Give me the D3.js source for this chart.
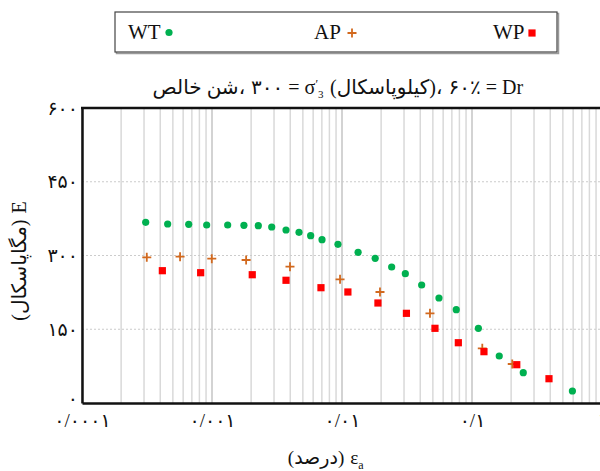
<!DOCTYPE html>
<html><head><meta charset="utf-8">
<script src="https://cdn.jsdelivr.net/npm/d3@7"></script>
<style>body{margin:0;background:#fff}svg{display:block}</style>
</head><body>
<svg id="c" width="600" height="471"></svg>
<script>
// ---- data ----
const seriesNames = ["WT", "AP", "WP"];
const wtStrain = [0.000309,0.000456,0.000662,0.000910,0.00132,0.00176,0.00227,0.00288,0.00371,0.00467,0.00574,0.00702,0.00931,0.0133,0.0180,0.0241,0.0307,0.0410,0.0557,0.0757,0.112,0.162,0.248,0.592];
const wtE      = [367.5,364.1,363.5,362.0,362.0,361.4,360.6,358.0,351.9,347.2,340.3,332.1,322.8,306.5,294.3,276.6,263.0,240.0,213.6,189.8,151.9,95.6,61.6,24.4];
const apStrain = [0.000315,0.000568,0.000996,0.00183,0.00398,0.00966,0.0196,0.0475,0.120,0.204];
const apE      = [296.3,297.6,293.5,290.8,277.2,251.6,225.8,182.4,111.3,79.3];
const wpStrain = [0.000415,0.000818,0.00204,0.00371,0.00689,0.0111,0.0189,0.0313,0.0519,0.0785,0.1236,0.221,0.391];
const wpE      = [269.1,265.0,260.9,249.6,234.5,225.8,203.4,182.4,151.9,122.6,104.4,77.9,49.4];
const xTicks = [0.0001, 0.001, 0.01, 0.1, 1];
const xTickLabels = ["۰/۰۰۰۱", "۰/۰۰۱", "۰/۰۱", "۰/۱", "۱"];
const yTicks = [0, 150, 300, 450, 600];
const yTickLabels = ["۰", "۱۵۰", "۳۰۰", "۴۵۰", "۶۰۰"];

// ---- layout ----
const svg = d3.select("#c");
const L = 82, R = 602, T = 108, B = 403;
const x = d3.scaleLog().domain([1e-4, 1]).range([L, R]);
const y = d3.scaleLinear().domain([0, 600]).range([B, T]);
const serif = "'Liberation Serif','Times New Roman','DejaVu Sans',serif";

// vertical log grid
const grid = [];
for (let d = 1e-4; d < 1; d *= 10) for (let k = 1; k <= 9; k++) grid.push({v: k * d, major: k === 1});
svg.append("g").selectAll("line").data(grid).join("line")
  .attr("x1", d => x(d.v)).attr("x2", d => x(d.v)).attr("y1", T).attr("y2", B)
  .attr("stroke", d => d.major ? "#c4c4c4" : "#d9d9d9").attr("stroke-width", 1.5);

// horizontal dotted grid
svg.append("g").selectAll("line").data(yTicks.filter(v => v > 0 && v < 600)).join("line")
  .attr("x1", L).attr("x2", 600).attr("y1", d => y(d)).attr("y2", d => y(d))
  .attr("stroke", "#cccccc").attr("stroke-width", 1.2).attr("stroke-dasharray", "2,2");

// axes
const yAxis = svg.append("g").attr("transform", `translate(${L},0)`)
  .call(d3.axisLeft(y).tickValues(yTicks).tickFormat((d, i) => yTickLabels[i]).tickSize(0).tickPadding(4));
const xAxis = svg.append("g").attr("transform", `translate(0,${B})`)
  .call(d3.axisBottom(x).tickValues(xTicks).tickFormat((d, i) => xTickLabels[i]).tickSize(0).tickPadding(11));
[yAxis, xAxis].forEach(a => {
  a.select(".domain").attr("stroke", "#111").attr("stroke-width", 2.5);
  a.selectAll("text").attr("font-family", serif).attr("font-size", 19).attr("fill", "#111");
});
yAxis.selectAll(".tick").filter(d => d === 0).select("text").attr("dy", "0.1em");
svg.append("line").attr("x1", L - 1).attr("x2", 600).attr("y1", T).attr("y2", T)
  .attr("stroke", "#111").attr("stroke-width", 2.5);

// series
const plusPath = "M-4.5,0H4.5M0,-4.5V4.5";
svg.append("g").selectAll("circle").data(wtStrain.map((s, i) => [s, wtE[i]])).join("circle")
  .attr("cx", d => x(d[0])).attr("cy", d => y(d[1])).attr("r", 3.6).attr("fill", "#00b050");
svg.append("g").selectAll("path").data(apStrain.map((s, i) => [s, apE[i]])).join("path")
  .attr("transform", d => `translate(${x(d[0])},${y(d[1])})`).attr("d", plusPath)
  .attr("stroke", "#d2691e").attr("stroke-width", 1.8).attr("fill", "none");
svg.append("g").selectAll("rect").data(wpStrain.map((s, i) => [s, wpE[i]])).join("rect")
  .attr("x", d => x(d[0]) - 3.6).attr("y", d => y(d[1]) - 3.6).attr("width", 7.2).attr("height", 7.2)
  .attr("fill", "#ff0000");

// helper: lay out bidi runs left-to-right as separate text elements
function runs(g, parts, cx, baseline, size) {
  let cur = 0; const els = [];
  parts.forEach(p => {
    const t = g.append("text").attr("y", baseline).attr("font-family", serif)
      .attr("font-size", p.size || size).attr("fill", "#111");
    if (p.build) p.build(t); else t.text(p.t);
    const w = t.node().getBBox().width;
    els.push({t, x: cur});
    cur += w + (p.gap || 0);
  });
  const start = cx - cur / 2;
  els.forEach(e => e.t.attr("x", start + e.x));
}

// title
runs(svg.append("g"), [
  {t: "شن خالص", gap: 0},
  {t: "،", gap: 6},
  {t: "۳۰۰", gap: 5},
  {t: "=", gap: 5},
  {build: t => { t.append("tspan").text("σ"); t.append("tspan").attr("font-size", 12).attr("dy", -6).text("′");
      t.append("tspan").attr("font-size", 11).attr("dy", 10).text("3"); }, gap: 6},
  {t: "(کیلوپاسکال)", gap: 0},
  {t: "،", gap: 6},
  {t: "۶۰٪", gap: 5},
  {t: "=", gap: 5},
  {t: "Dr"}
], 338, 94, 20);

// x title
runs(svg.append("g"), [
  {t: "(درصد)", gap: 6},
  {build: t => { t.append("tspan").text("ε"); t.append("tspan").attr("font-size", 12).attr("dy", 5).text("a"); }}
], 326, 464, 19);

// y title
const yt = svg.append("g").attr("transform", "translate(26,261) rotate(-90)");
runs(yt, [
  {t: "(مگاپاسکال)", gap: 6},
  {t: "E"}
], 0, 0, 20);

// legend
const lg = svg.append("g");
lg.append("rect").attr("x", 116.5).attr("y", 13.5).attr("width", 442).attr("height", 40)
  .attr("fill", "none").attr("stroke", "#9a9a9a").attr("stroke-width", 1.5);
lg.append("rect").attr("x", 115).attr("y", 12).attr("width", 442).attr("height", 40)
  .attr("fill", "#fff").attr("stroke", "#444").attr("stroke-width", 1.2);
const legX = [128, 314, 493];
const markX = [169, 352, 532];
lg.selectAll("text").data(seriesNames).join("text")
  .attr("x", (d, i) => legX[i]).attr("y", 38.5).attr("font-family", serif).attr("font-size", 21)
  .attr("fill", "#111").text(d => d);
lg.append("circle").attr("cx", markX[0]).attr("cy", 32.5).attr("r", 3.6).attr("fill", "#00b050");
lg.append("path").attr("transform", `translate(${markX[1]},33)`).attr("d", plusPath)
  .attr("stroke", "#d2691e").attr("stroke-width", 1.8);
lg.append("rect").attr("x", markX[2] - 3.6).attr("y", 33 - 3.6).attr("width", 7.2).attr("height", 7.2).attr("fill", "#ff0000");
</script>
</body></html>
